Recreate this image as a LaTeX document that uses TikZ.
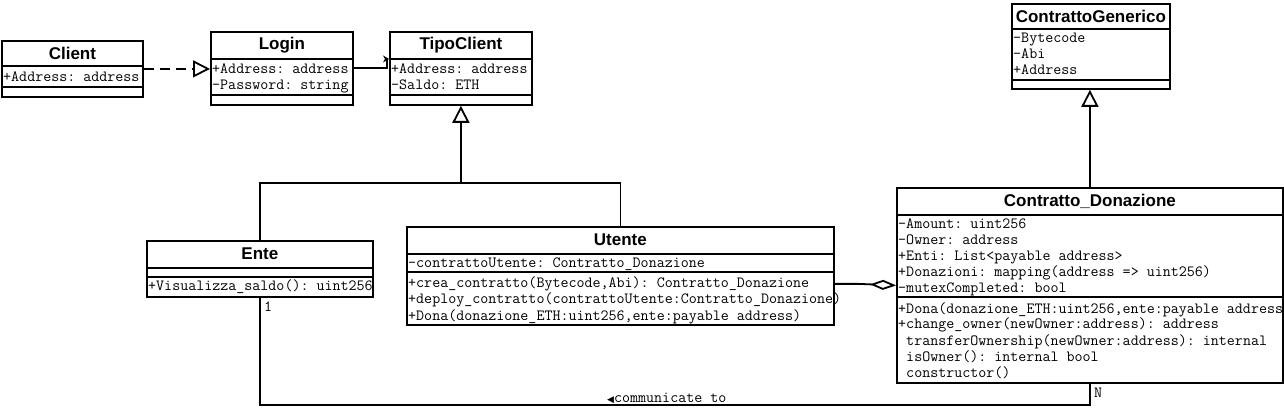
\documentclass[tikz,border=0pt]{standalone}
\usepackage{fontspec}
\usetikzlibrary{arrows.meta}
\newfontfamily\titlefont{Liberation Sans}
\newfontfamily\symfont{DejaVu Sans}
\tikzset{
  cls/.style={draw, line width=1.8pt, anchor=north west, inner sep=0pt},
  ttl/.style={font=\titlefont\bfseries\fontsize{17}{17}\selectfont, inner sep=0pt},
  mem/.style={font=\ttfamily\frenchspacing\fontsize{15.57}{16}\selectfont, anchor=west, inner sep=0pt, text height=11pt, text depth=1pt},
  rel/.style={line width=1.8pt},
  gen/.style={-{Triangle[open, length=17pt, width=17pt]}},
}
\begin{document}
\begin{tikzpicture}[x=1pt, y=1pt]
\useasboundingbox (0,0) rectangle (1284,415);
% Client
\node[cls, minimum width=141pt, minimum height=56pt] (client) at (1,375) {};
\draw[rel] ([yshift=-26]client.north west) -- ([yshift=-26]client.north east);
\draw[rel] ([yshift=-47]client.north west) -- ([yshift=-47]client.north east);
\node[ttl] (clientname) at ([yshift=-13]client.north) {Client};
\node[mem] (clienta1) at ([xshift=2,yshift=-37]client.north west) {+Address: address};
% Login
\node[cls, minimum width=142pt, minimum height=73pt] (login) at (210,384) {};
\draw[rel] ([yshift=-28]login.north west) -- ([yshift=-28]login.north east);
\draw[rel] ([yshift=-64]login.north west) -- ([yshift=-64]login.north east);
\node[ttl] (loginname) at ([yshift=-14]login.north) {Login};
\node[mem] (logina1) at ([xshift=2,yshift=-38]login.north west) {+Address: address};
\node[mem] (logina2) at ([xshift=2,yshift=-54]login.north west) {-Password: string};
% TipoClient
\node[cls, minimum width=142pt, minimum height=73pt] (tipo) at (389,384) {};
\draw[rel] ([yshift=-28]tipo.north west) -- ([yshift=-28]tipo.north east);
\draw[rel] ([yshift=-64]tipo.north west) -- ([yshift=-64]tipo.north east);
\node[ttl] (tiponame) at ([yshift=-14]tipo.north) {TipoClient};
\node[mem] (tipoa1) at ([xshift=2,yshift=-38]tipo.north west) {+Address: address};
\node[mem] (tipoa2) at ([xshift=2,yshift=-54]tipo.north west) {-Saldo: ETH};
% ContrattoGenerico
\node[cls, minimum width=158pt, minimum height=85pt] (cg) at (1011,412) {};
\draw[rel] ([yshift=-26]cg.north west) -- ([yshift=-26]cg.north east);
\draw[rel] ([yshift=-77]cg.north west) -- ([yshift=-77]cg.north east);
\node[ttl] (cgname) at ([yshift=-13]cg.north) {ContrattoGenerico};
\node[mem] (cga1) at ([xshift=2,yshift=-35]cg.north west) {-Bytecode};
\node[mem] (cga2) at ([xshift=2,yshift=-51]cg.north west) {-Abi};
\node[mem] (cga3) at ([xshift=2,yshift=-67]cg.north west) {+Address};
% Ente
\node[cls, minimum width=226pt, minimum height=56pt] (ente) at (146,175) {};
\draw[rel] ([yshift=-28]ente.north west) -- ([yshift=-28]ente.north east);
\draw[rel] ([yshift=-37]ente.north west) -- ([yshift=-37]ente.north east);
\node[ttl] (entename) at ([yshift=-14]ente.north) {Ente};
\node[mem] (entem1) at ([xshift=2,yshift=-46]ente.north west) {+Visualizza\_saldo(): uint256};
% Utente
\node[cls, minimum width=427pt, minimum height=98pt] (utente) at (406,189) {};
\draw[rel] ([yshift=-28]utente.north west) -- ([yshift=-28]utente.north east);
\draw[rel] ([yshift=-46]utente.north west) -- ([yshift=-46]utente.north east);
\node[ttl] (utentename) at ([yshift=-14]utente.north) {Utente};
\node[mem] (utentea1) at ([xshift=2,yshift=-37]utente.north west) {-contrattoUtente: Contratto\_Donazione};
\node[mem] (utentem1) at ([xshift=2,yshift=-57]utente.north west) {+crea\_contratto(Bytecode,Abi): Contratto\_Donazione};
\node[mem] (utentem2) at ([xshift=2,yshift=-73]utente.north west) {+deploy\_contratto(contrattoUtente:Contratto\_Donazione)};
\node[mem] (utentem3) at ([xshift=2,yshift=-89]utente.north west) {+Dona(donazione\_ETH:uint256,ente:payable address)};
% Contratto_Donazione
\node[cls, minimum width=386pt, minimum height=195pt] (donaz) at (896,228) {};
\draw[rel] ([yshift=-28]donaz.north west) -- ([yshift=-28]donaz.north east);
\draw[rel] ([yshift=-110]donaz.north west) -- ([yshift=-110]donaz.north east);
\node[ttl] (donazname) at ([yshift=-14]donaz.north) {Contratto\_Donazione};
\node[mem] (donaza1) at ([xshift=2,yshift=-37]donaz.north west) {-Amount: uint256};
\node[mem] (donaza2) at ([xshift=2,yshift=-53]donaz.north west) {-Owner: address};
\node[mem] (donaza3) at ([xshift=2,yshift=-69]donaz.north west) {+Enti: List<payable address>};
\node[mem] (donaza4) at ([xshift=2,yshift=-85]donaz.north west) {+Donazioni: mapping(address => uint256)};
\node[mem] (donaza5) at ([xshift=2,yshift=-101]donaz.north west) {-mutexCompleted: bool};
\node[mem] (donazm1) at ([xshift=2,yshift=-121]donaz.north west) {+Dona(donazione\_ETH:uint256,ente:payable address};
\node[mem] (donazm2) at ([xshift=2,yshift=-137]donaz.north west) {+change\_owner(newOwner:address): address};
\node[mem] (donazm3) at ([xshift=2,yshift=-153]donaz.north west) {\ transferOwnership(newOwner:address): internal};
\node[mem] (donazm4) at ([xshift=2,yshift=-169]donaz.north west) {\ isOwner(): internal bool};
\node[mem] (donazm5) at ([xshift=2,yshift=-185]donaz.north west) {\ constructor()};
% relations
\draw[rel, dash pattern=on 10pt off 6pt, -{Triangle[open, length=17pt, width=17pt]}] (client.east) -- (client.east -| login.west);
\draw[rel, -{Stealth[length=6pt, width=7pt]}] (login.east) -- ++(33,0) |- ([yshift=-28]tipo.north west);
\coordinate (fork) at ([yshift=-77]tipo.south);
\draw[rel] (ente.north) |- (fork) -| (utente.north);
\draw[rel, gen] (fork) -- (tipo.south);
\draw[rel, gen] (donaz.north) -- (donaz.north |- cg.south);
\draw[rel, -{Diamond[open, length=26pt, width=10pt]}] ([yshift=-8]utente.east) -- ++(24,0) -- (donaz.west);
\draw[rel] (ente.south) |- ([yshift=-21]donaz.south) -- (donaz.south);
\node[mem] (one) at ([xshift=4,yshift=-9]ente.south) {1};
\node[mem] (many) at ([xshift=4,yshift=-9]donaz.south) {N};
\node[mem] (comm) at (607,18) {{\symfont\fontsize{9}{9}\selectfont ◀}communicate to};
\end{tikzpicture}
\end{document}
